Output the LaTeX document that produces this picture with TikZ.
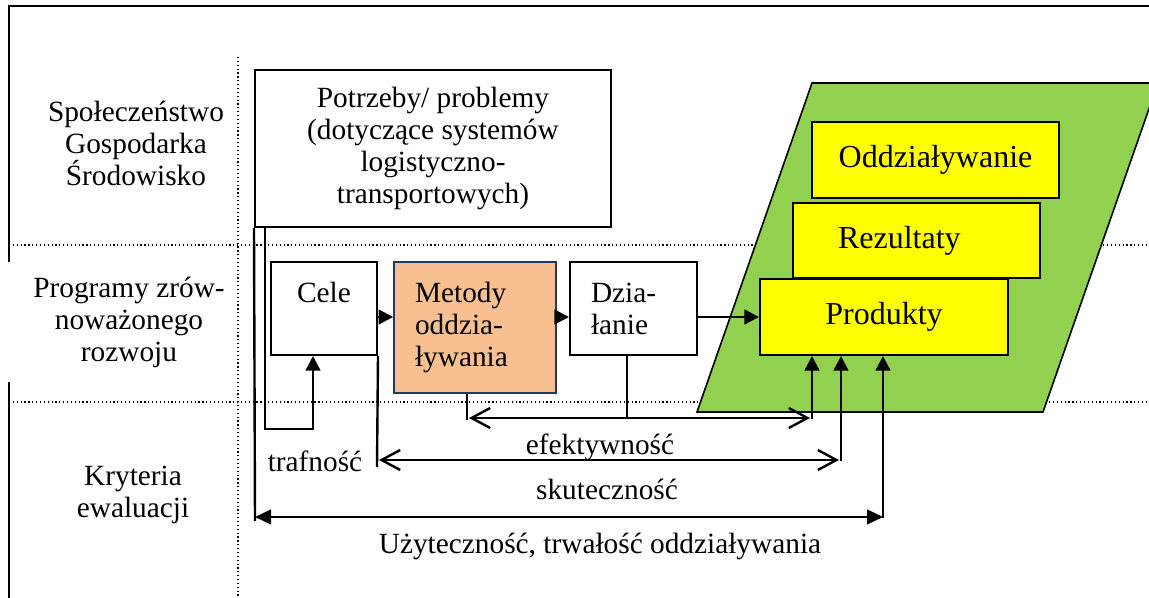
\documentclass[tikz,border=0pt]{standalone}
\usepackage{fontspec}
\setmainfont{Liberation Serif}
\usetikzlibrary{arrows.meta}

\definecolor{zielony}{HTML}{92D050}
\definecolor{zolty}{HTML}{FFFF00}
\definecolor{lososiowy}{HTML}{F8C090}
\definecolor{granat}{HTML}{1F3864}

\begin{document}
\begin{tikzpicture}[x=0.75pt,y=-0.75pt,
    txt/.style={font=\fontsize{22}{24}\selectfont, align=center, inner sep=0pt},
    box/.style={txt, draw, line width=1.5pt, fill=white},
    ybox/.style={box, fill=zolty, font=\fontsize{24}{28}\selectfont},
    lnk/.style={line width=1.8pt},
    tri/.style={lnk, -{Triangle[length=11pt,width=11pt]}},
    dtri/.style={lnk, {Triangle[length=12pt,width=11pt]}-{Triangle[length=12pt,width=11pt]}},
    barb/.style={lnk, {Straight Barb[length=14pt,width=15pt]}-{Straight Barb[length=14pt,width=15pt]}},
    siatka/.style={dotted, line width=0.9pt}]
    \useasboundingbox (0,0) rectangle (1149,598);
    \draw[line width=1.8pt] (1149,6) -- (9,6) -- (9,598);
    \node[txt, fill=white, minimum width=186pt, minimum height=90pt] (prog) at (129,322)
      {Programy zrów-\\noważonego\\rozwoju};
    \draw[siatka] (238,57) -- (238,598);
    \draw[siatka] (9,245) -- (1149,245);
    \draw[siatka] (9,402) -- (1149,402);
    \node[txt] (spol) at (136,143) {Społeczeństwo\\Gospodarka\\Środowisko};
    \node[txt] (kryt) at (133,495) {Kryteria\\ewaluacji};

    \node[box, minimum width=267pt, minimum height=117.75pt] (potrz) at (433,148.5)
      {Potrzeby/ problemy\\(dotyczące systemów\\logistyczno-\\transportowych)};

    \filldraw[fill=zielony, draw=black, line width=1.2pt]
      (697,412) -- (812,83) -- (1158,83) -- (1043,412) -- cycle;
    \node[ybox, minimum width=185.25pt, minimum height=57pt] (oddz) at (935.5,160) {Oddziaływanie};
    \node[ybox, minimum width=185.25pt, minimum height=56.25pt, text width=117.75pt, align=left] (rez) at (916.5,240.5) {Rezultaty};
    \node[ybox, minimum width=186pt, minimum height=57pt] (prod) at (884,317) {Produkty};

    \node[box, minimum width=79.5pt, minimum height=69.75pt] (cele) at (324,308.5) {Cele\\\mbox{}};
    \node[box, fill=lososiowy, draw=granat, line width=1.2pt, minimum width=121.5pt, minimum height=98.25pt,
      text width=90pt, align=left] (metody) at (475,327.5) {Metody\\oddzia-\\ływania};
    \node[box, minimum width=95.25pt, minimum height=69.75pt, text width=63.75pt, align=left]
      (dzial) at (633.5,308.5) {Dzia-\\łanie};

    \draw[tri] (cele.east |- prod.west) -- (metody.west |- prod.west);
    \draw[tri] (metody.east |- prod.west) -- (dzial.west |- prod.west);
    \draw[tri] (dzial.east |- prod.west) -- (prod.west);

    \draw[tri] (potrz.south -| 265,0) -- (265,429) -| (cele.south -| 313,0);
    \node[txt] (traf) at (315,461) {trafność};

    \draw[lnk] (metody.south -| 467,0) -- (467,420);
    \draw[lnk] (dzial.south -| 627,0) -- (627,419);
    \draw[barb] (469,418) -- (810,418);
    \draw[tri] (812,419) -- (prod.south -| 812,0);
    \node[txt] (efek) at (600,447) {efektywność};

    \draw[lnk] (cele.south east) -- (377,467);
    \draw[barb] (379,460) -- (839,460);
    \draw[tri] (841,461) -- (prod.south -| 841,0);
    \node[txt] (skut) at (607,489) {skuteczność};

    \draw[lnk] (potrz.south west) -- (255,521);
    \draw[dtri] (255,517) -- (883,517);
    \draw[tri] (883,518) -- (prod.south -| 883,0);
    \node[txt] (uzyt) at (600,546) {Użyteczność, trwałość oddziaływania};
\end{tikzpicture}
\end{document}
